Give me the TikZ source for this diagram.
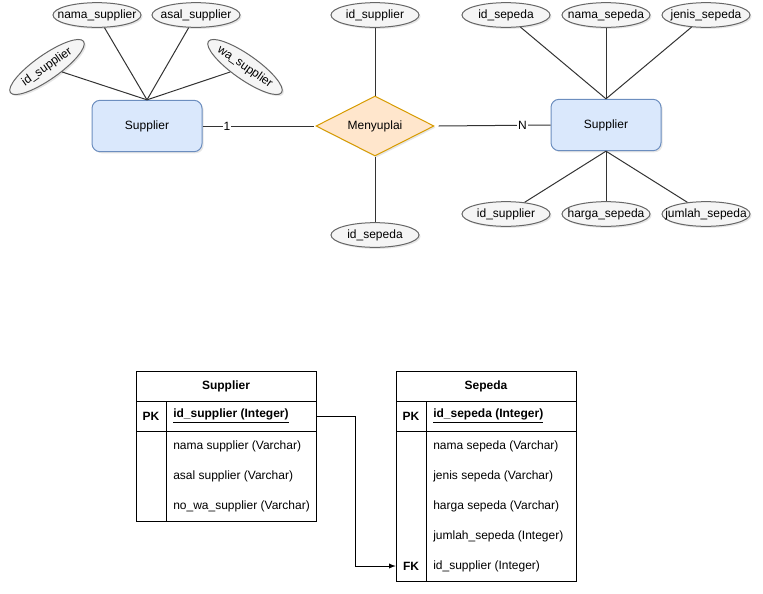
\documentclass[tikz,border=0pt]{standalone}
\usepackage{fontspec}
\setmainfont{Liberation Sans}
\usetikzlibrary{shapes.geometric,shadows}

\definecolor{entfill}{HTML}{DAE8FC}
\definecolor{entline}{HTML}{6C8EBF}
\definecolor{attfill}{HTML}{F5F5F5}
\definecolor{attline}{HTML}{666666}
\definecolor{relfill}{HTML}{FFE6CC}
\definecolor{relline}{HTML}{D79B00}

% attribute text, the ellipse takes its size from the style
\newcommand\att[1]{\makebox[0pt]{#1}}

\begin{document}
\begin{tikzpicture}[>=latex,x=0.75pt,y=-0.75pt,font=\fontsize{9}{11}\selectfont,
  shd/.style={drop shadow={opacity=0.2,shadow xshift=1.2pt,shadow yshift=-1.2pt}},
  entity/.style={draw=entline,fill=entfill,rounded corners=6pt,line width=0.75pt,
    minimum width=82.5pt,minimum height=38.5pt,shd},
  attr/.style={ellipse,draw=attline,fill=attfill,line width=0.75pt,inner sep=0,
    minimum width=66pt,minimum height=18.5pt,shd},
  rel/.style={diamond,draw=relline,fill=relfill,line width=0.75pt,inner sep=0,aspect=2,
    minimum width=88.5pt,minimum height=45pt,shd},
  link/.style={draw=black!80,line width=0.75pt},
  card/.style={fill=white,inner sep=0.8pt},
  tabhead/.style={draw,minimum width=135pt,minimum height=22.5pt,inner sep=0,font=\fontsize{9}{11}\bfseries},
  keycol/.style={draw,minimum width=22.5pt,inner sep=0},
  fieldcol/.style={draw,minimum width=112.5pt,inner sep=0},
  field/.style={anchor=west,inner sep=0}]
\useasboundingbox (0,0) rectangle (763,593);

% entities and relation
\node[entity] (sup) at (147,126) {Supplier};
\node[rel] (menyuplai) at (375,126) {Menyuplai};
\node[entity] (sep) at (606,125) {Supplier};

\draw[link] (sup.east) -- node[card,pos=0.22] {1} ([xshift=-1.5pt]menyuplai.west);
\draw[link] ([xshift=3pt]menyuplai.east) -- node[card,pos=0.75] {N} (sep.west);

% attributes left
\node[attr] (nama) at (97,15) {\att{nama\_supplier}};
\node[attr] (asal) at (196,15) {\att{asal\_supplier}};
\node[attr,rotate=35,minimum width=67pt] (idsup) at (47,67) {\att{id\_supplier}};
\node[attr,rotate=-35,minimum width=67pt] (wasup) at (245,67) {\att{wa\_supplier}};
\foreach \a in {nama,asal,idsup,wasup} {
  \draw[link] (sup.north) -- (\a);
}

% attributes of relation
\node[attr] (relsup) at (375,15) {\att{id\_supplier}};
\node[attr] (relsep) at (375,235) {\att{id\_sepeda}};
\draw[link] (menyuplai) -- (relsup);
\draw[link] (menyuplai) -- (relsep);

% attributes right
\foreach \nm/\x [count=\i] in {id\_sepeda/506,nama\_sepeda/606,jenis\_sepeda/706} {
  \node[attr] (top\i) at (\x,15) {\att{\nm}};
  \draw[link] (sep.north) -- (top\i);
}
\foreach \nm/\x [count=\i] in {id\_supplier/506,harga\_sepeda/606,jumlah\_sepeda/706} {
  \node[attr] (bot\i) at (\x,214) {\att{\nm}};
  \draw[link] (sep.south) -- (bot\i);
}

% table Supplier
\node[tabhead] (stitle) at (226,386) {Supplier};
\node[keycol,minimum height=22.5pt,font=\fontsize{9}{11}\bfseries] (spk) at (151,416) {PK};
\node[fieldcol,minimum height=22.5pt] (spkrow) at (241,416) {};
\node[field,font=\fontsize{9}{11}\bfseries] (spkf) at (173,416) {\underline{id\_supplier (Integer)}};
\node[keycol,minimum height=67.5pt] (skey) at (151,476) {};
\node[fieldcol,minimum height=67.5pt] (sbody) at (241,476) {};
\foreach \txt/\y [count=\i] in {nama supplier (Varchar)/446,asal supplier (Varchar)/476,no\_wa\_supplier (Varchar)/506} {
  \node[field] (sf\i) at (173,\y) {\txt};
}

% table Sepeda
\node[tabhead] (ktitle) at (486,386) {Sepeda};
\node[keycol,minimum height=22.5pt,font=\fontsize{9}{11}\bfseries] (kpk) at (411,416) {PK};
\node[fieldcol,minimum height=22.5pt] (kpkrow) at (501,416) {};
\node[field,font=\fontsize{9}{11}\bfseries] (kpkf) at (433,416) {\underline{id\_sepeda (Integer)}};
\node[keycol,minimum height=112.5pt] (kkey) at (411,506) {};
\node[fieldcol,minimum height=112.5pt] (kbody) at (501,506) {};
\foreach \txt/\y [count=\i] in {nama sepeda (Varchar)/446,jenis sepeda (Varchar)/476,harga sepeda (Varchar)/506,jumlah\_sepeda (Integer)/536,id\_supplier (Integer)/566} {
  \node[field] (kf\i) at (433,\y) {\txt};
}
\node[minimum width=22.5pt,inner sep=0,font=\fontsize{9}{11}\bfseries] (kfk) at (411,566) {FK};

% foreign key
\draw[->,line width=0.75pt] (spkrow.east) -- ++(39,0) |- (kfk.west);
\end{tikzpicture}
\end{document}
